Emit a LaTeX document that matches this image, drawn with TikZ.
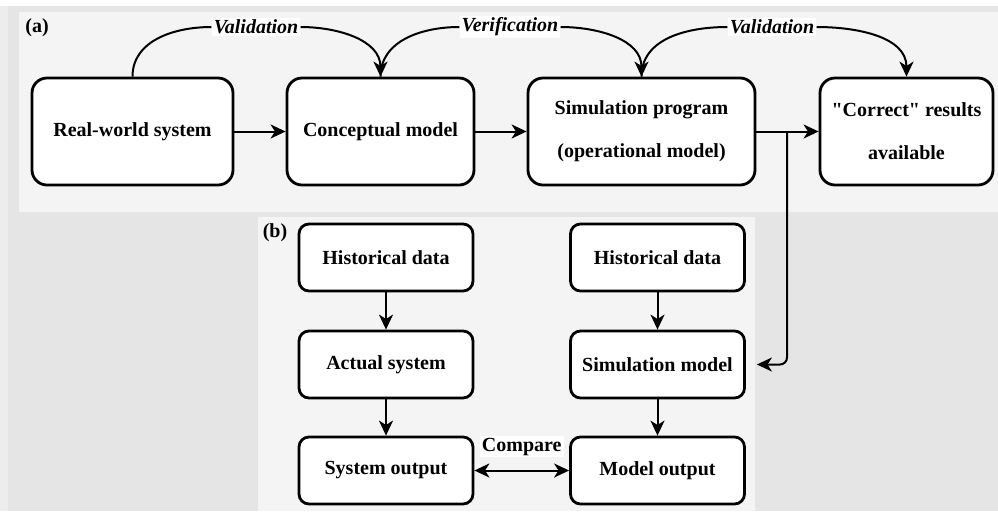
\documentclass[tikz,border=0pt]{standalone}
\usepackage{fontspec}
\setmainfont{Liberation Serif}[Ligatures=TeXOff]
\usetikzlibrary{arrows.meta}

\definecolor{bggray}{gray}{0.9}
\definecolor{edgegray}{gray}{0.93}
\definecolor{panelgray}{gray}{0.955}

\begin{document}
\begin{tikzpicture}[
  x=0.5pt, y=-0.5pt,
  >={Stealth[length=7.5pt,width=7pt,inset=2.2pt]},
  every node/.style={font=\bfseries\fontsize{10}{21.5}\selectfont},
  bigbox/.style={draw, line width=1.4pt, fill=white, rounded corners=7.5pt,
    align=center, minimum height=53.5pt, inner sep=0pt},
  smallbox/.style={draw, line width=1.4pt, fill=white, rounded corners=5pt,
    minimum width=87pt, minimum height=33.5pt, inner sep=0pt},
  flow/.style={line width=1pt, ->},
  link/.style={line width=1pt},
  vlabel/.style={fill=white, inner sep=1pt, font=\bfseries\itshape\fontsize{10}{12}\selectfont},
]
\useasboundingbox (0,0) rectangle (998,511);
\fill[bggray] (0,0) rectangle (998,511);
\fill[edgegray] (0,0) rectangle (8,511);
\fill[white] (0,0) rectangle (998,6);
\fill[panelgray] (19,12) rectangle (998,212);
\fill[panelgray] (258,217) rectangle (755,511);

\node (pa) at (37,28) {(a)};
\node (pb) at (275,233) {(b)};

\node[bigbox, minimum width=100.5pt] (rw) at (132.5,131.5) {Real-world system};
\node[bigbox, minimum width=93.5pt] (cm) at (380.5,131.5) {Conceptual model};
\node[bigbox, minimum width=113.5pt] (sp) at (641.5,131.5) {Simulation program\\(operational model)};
\node[bigbox, minimum width=86.5pt] (cr) at (906.5,131.5) {"Correct" results\\available};

\node[vlabel] (va) at (256,27) {Validation};
\node[vlabel] (ve) at (510,27) {Verification};
\node[vlabel] (vb) at (772,27) {Validation};

\draw[link] (rw.north) to[out=90,in=180] (va.west);
\draw[flow] (va.east) to[out=0,in=90] (cm.north);
\draw[link] (cm.north) to[out=90,in=180] (ve.west);
\draw[flow] (ve.east) to[out=0,in=90] (sp.north);
\draw[link] (sp.north) to[out=90,in=180] (vb.west);
\draw[flow] (vb.east) to[out=0,in=90] (cr.north);

\draw[flow] (rw) -- (cm);
\draw[flow] (cm) -- (sp);
\draw[flow] (sp) -- (cr);

\node[smallbox] (hd1) at (386,257.5) {Historical data};
\node[smallbox] (as) at (386,364.5) {Actual system};
\node[smallbox] (so) at (386,470.5) {System output};
\node[smallbox] (hd2) at (657.5,257.5) {Historical data};
\node[smallbox] (sm) at (657.5,364.5) {Simulation model};
\node[smallbox] (mo) at (657.5,470.5) {Model output};

\draw[flow] (hd1) -- (as);
\draw[flow] (as) -- (so);
\draw[flow] (hd2) -- (sm);
\draw[flow] (sm) -- (mo);
\draw[flow, <->] (so) -- node[midway, yshift=12pt, fill=white, inner sep=1pt] (cmp) {Compare} (mo);

\coordinate (jn) at (787,131.5);
\draw[flow, rounded corners=3.5pt, shorten >=5.5pt] (jn) |- (sm.east);
\end{tikzpicture}
\end{document}
